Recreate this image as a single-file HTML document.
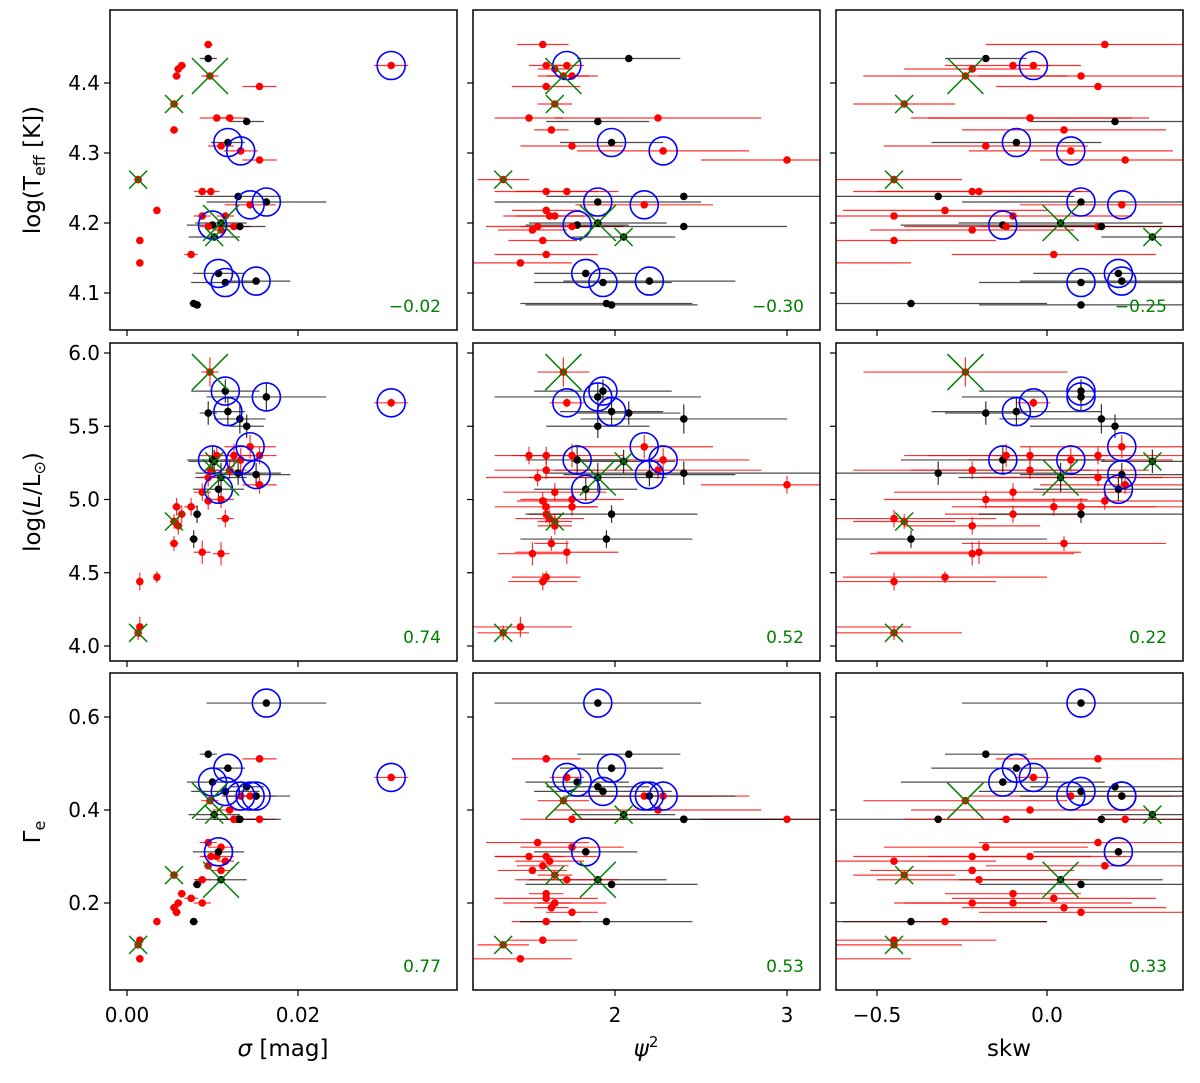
<!DOCTYPE html>
<html><head><meta charset="utf-8"><style>
html,body{margin:0;padding:0;background:#fff;}
svg{display:block;font-family:"DejaVu Sans","Liberation Sans",sans-serif;}
</style></head><body>
<svg id="chart" width="1200" height="1083" viewBox="0 0 1200 1083" xmlns="http://www.w3.org/2000/svg"></svg>
<script>
// ---- data (one entry per star) ----
const sigma = [.0309,.0095,.0095,.0097,.0060,.0064,.0058,.0055,.0055,.0105,.0118,.0133,.0140,.0155,.0120,.0155,.0110,.0163,.0144,.0098,.0130,.0100,.0107,.0115,.0151,.0102,.0110,.0013,.0035,.0015,.0015,.0078,.0082,.0125,.0115,.0095,.0088,.0132,.0088,.0110,.0075];
const sigmaErr = [.002,.0005,.001,.001,.0005,.0005,.0005,.0005,.0005,.002,.002,.002,.002,.002,.002,.002,.0015,.007,.003,.001,.005,.003,.003,.004,.004,.003,.003,.0004,.0003,.0004,.0004,.0005,.0005,.002,.001,.001,.001,.003,.001,.001,.0008];
const psi2 = [1.72,1.58,2.08,1.70,1.65,1.60,1.75,1.65,1.63,1.50,1.98,2.28,1.90,1.60,2.25,3.00,1.75,1.90,2.17,1.60,2.40,1.78,1.83,1.93,2.20,2.05,1.90,1.35,1.60,1.58,1.45,1.95,1.98,1.75,1.62,1.55,1.72,2.40,1.65,1.52,1.60];
const psi2Err = [.1,.15,.3,.15,.1,.1,.15,.1,.1,.2,.3,.5,.3,.2,.6,.5,.3,.6,.4,.3,.8,.3,.3,.4,.5,.3,.4,.15,.2,.2,.3,.5,.5,.3,.2,.3,.3,.6,.3,.2,.3];
const skw = [-.04,.17,-.18,-.24,-.22,-.10,.10,-.42,.05,-.05,-.09,.07,.20,.15,-.05,.23,-.18,.10,.22,-.22,-.32,-.13,.21,.10,.22,.31,.04,-.45,-.30,-.45,-.70,-.40,.10,-.12,-.45,.15,-.20,.16,-.10,-.22,.02];
const skwErr = [.05,.35,.12,.30,.20,.20,.30,.15,.30,.30,.25,.30,.25,.30,.35,.25,.30,.35,.30,.35,.40,.30,.25,.30,.30,.15,.30,.20,.30,.30,.30,.40,.30,.30,.30,.35,.30,.30,.35,.30,.30];
const logT = [4.425,4.455,4.435,4.41,4.42,4.425,4.41,4.37,4.333,4.35,4.315,4.303,4.345,4.395,4.35,4.29,4.31,4.23,4.226,4.245,4.238,4.197,4.128,4.115,4.117,4.18,4.2,4.262,4.218,4.175,4.143,4.085,4.083,4.195,4.21,4.195,4.245,4.195,4.21,4.19,4.155];
const logL = [5.66,4.99,5.59,5.87,4.82,4.90,4.95,4.85,4.70,5.30,5.60,5.27,5.50,5.30,5.20,5.10,5.00,5.70,5.36,5.20,5.18,5.27,5.07,5.74,5.17,5.26,5.15,4.09,4.47,4.44,4.13,4.73,4.90,5.30,4.87,5.15,4.64,5.55,5.05,4.63,4.95];
const logLErr = [.03,.06,.08,.1,.06,.06,.06,.05,.05,.06,.1,.08,.08,.06,.06,.06,.06,.1,.08,.06,.08,.1,.08,.08,.08,.08,.1,.05,.04,.06,.07,.06,.06,.08,.06,.06,.08,.1,.06,.08,.06];
const gammaE = [.47,.28,.52,.42,.20,.22,.18,.26,.19,.30,.49,.43,.45,.51,.40,.38,.32,.63,.43,.30,.38,.46,.31,.44,.43,.39,.25,.11,.16,.12,.08,.16,.24,.38,.29,.33,.25,.38,.20,.27,.21];
const kind = ['r','r','k','r','r','r','r','r','r','r','k','r','k','r','r','r','r','k','r','r','k','k','k','k','k','k','k','r','r','r','r','k','k','r','r','r','r','k','r','r','r'];
const circled = [1,0,0,0,0,0,0,0,0,0,1,1,0,0,0,0,0,1,1,0,0,1,1,1,1,0,0,0,0,0,0,0,0,0,0,0,0,0,0,0,0];
const crossed = [0,0,0,2,0,0,0,1,0,0,0,0,0,0,0,0,0,0,0,0,0,0,0,0,0,1,2,1,0,0,0,0,0,0,0,0,0,0,0,0,0];
const corrLabels = [['\u22120.02','\u22120.30','\u22120.25'],['0.74','0.52','0.22'],['0.77','0.53','0.33']];
const xTicks = [[0,0.02],[2,3],[-0.5,0.0]];
const xTickLabels = [['0.00','0.02'],['2','3'],['\u22120.5','0.0']];
const yTicks = [[4.1,4.2,4.3,4.4],[4.0,4.5,5.0,5.5,6.0],[0.2,0.4,0.6]];
const yTickLabels = [['4.1','4.2','4.3','4.4'],['4.0','4.5','5.0','5.5','6.0'],['0.2','0.4','0.6']];

// ---- layout / scales ----
const NS='http://www.w3.org/2000/svg';
const svg=document.getElementById('chart');
const colX=[[110,457],[473,820],[836,1183]];
const rowY=[[10,330],[343,661],[673,990]];
const xScale=[v=>127+v*8550, v=>615+(v-2)*172, v=>1047+v*340];
const yScale=[v=>83+(4.4-v)*700, v=>353+(6-v)*146.5, v=>717+(0.6-v)*465];
const xVals=[sigma,psi2,skw], xErrs=[sigmaErr,psi2Err,skwErr];
const yVals=[logT,logL,gammaE];
function mk(tag,attrs,parent){const e=document.createElementNS(NS,tag);for(const k in attrs)e.setAttribute(k,attrs[k]);(parent||svg).appendChild(e);return e;}
const defs=mk('defs',{});
for(let r=0;r<3;r++)for(let c=0;c<3;c++){
  const cp=mk('clipPath',{id:'cp'+r+c},defs);
  mk('rect',{x:colX[c][0],y:rowY[r][0],width:colX[c][1]-colX[c][0],height:rowY[r][1]-rowY[r][0]},cp);
}
for(let r=0;r<3;r++)for(let c=0;c<3;c++){
  const g=mk('g',{'clip-path':'url(#cp'+r+c+')'});
  
  
  const xs=xScale[c], ys=yScale[r];
  const N=sigma.length;
  for(let i=0;i<N;i++){
    const col=kind[i]==='r'?'#ff0000':'#000000';
    const x=xs(xVals[c][i]), y=ys(yVals[r][i]);
    const x0=xs(xVals[c][i]-xErrs[c][i]), x1=xs(xVals[c][i]+xErrs[c][i]);
    const eb=mk('line',{x1:x0,x2:x1,y1:y,y2:y,stroke:col,'stroke-width':1.2,'stroke-opacity':kind[i]==='r'?0.8:0.7},g);
    
    
    if(r===1){
      const ve=mk('line',{x1:x,x2:x,y1:ys(yVals[r][i]+logLErr[i]),y2:ys(yVals[r][i]-logLErr[i]),stroke:col,'stroke-width':1.2,'stroke-opacity':0.8},g);
      
      
    }
  }
  for(let i=0;i<N;i++){
    const col=kind[i]==='r'?'#ff0000':'#000000';
    const d=mk('circle',{cx:xs(xVals[c][i]),cy:ys(yVals[r][i]),r:3.8,fill:col},g);
    
    
  }
  for(let i=0;i<N;i++){
    if(!circled[i])continue;
    const o=mk('circle',{cx:xs(xVals[c][i]),cy:ys(yVals[r][i]),r:14,fill:'none',stroke:'#0000ff','stroke-width':1.6},g);
    
    
  }
  for(let i=0;i<N;i++){
    if(!crossed[i])continue;
    const h=crossed[i]===2?18:9, x=xs(xVals[c][i]), y=ys(yVals[r][i]);
    const p=mk('path',{d:`M${x-h},${y-h}L${x+h},${y+h}M${x-h},${y+h}L${x+h},${y-h}`,stroke:'#008000','stroke-width':1.5,fill:'none'},g);
    
    
  }
  // frame
  const fr=mk('rect',{x:colX[c][0],y:rowY[r][0],width:colX[c][1]-colX[c][0],height:rowY[r][1]-rowY[r][0],fill:'none',stroke:'#000','stroke-width':1.5});
  
  
  // x ticks
  xTicks[c].forEach((t,j)=>{
    const x=xs(t);
    mk('line',{x1:x,x2:x,y1:rowY[r][1],y2:rowY[r][1]+6,stroke:'#000','stroke-width':1.2});
    if(r===2){
      const tl=mk('text',{x:x,y:1022,'font-size':20,'text-anchor':'middle'});
      tl.textContent=xTickLabels[c][j];
      
      
    }
  });
  yTicks[r].forEach((t,j)=>{
    const y=ys(t);
    mk('line',{x1:colX[c][0]-6,x2:colX[c][0],y1:y,y2:y,stroke:'#000','stroke-width':1.2});
    if(c===0){
      const tl=mk('text',{x:100,y:y+7,'font-size':20,'text-anchor':'end'});
      tl.textContent=yTickLabels[r][j];
      
      
    }
  });
  const cl=mk('text',{x:colX[c][1]-16,y:rowY[r][1]-18,'font-size':17,'text-anchor':'end',fill:'#008000'});
  cl.textContent=corrLabels[r][c];
  
  
}
</script>
<svg style="position:absolute;left:0;top:0" width="1200" height="1083" xmlns="http://www.w3.org/2000/svg" font-family="DejaVu Sans, Liberation Sans, sans-serif">
  <text transform="translate(40,170) rotate(-90)" font-size="23" text-anchor="middle">log(T<tspan font-size="16" dy="5">eff</tspan><tspan dy="-5"> [K])</tspan></text>
  <text transform="translate(40,502) rotate(-90)" font-size="23" text-anchor="middle">log(<tspan font-style="italic">L</tspan>/L<tspan font-size="16" dy="5">⊙</tspan><tspan dy="-5">)</tspan></text>
  <text transform="translate(40,832) rotate(-90)" font-size="23" text-anchor="middle">Γ<tspan font-size="16" dy="5">e</tspan></text>
  <text x="283" y="1056" font-size="23" text-anchor="middle"><tspan font-style="italic">σ</tspan> [mag]</text>
  <text x="646" y="1056" font-size="23" text-anchor="middle" font-style="italic">ψ<tspan font-size="15" dy="-9" font-style="normal">2</tspan></text>
  <text x="1009" y="1056" font-size="23" text-anchor="middle">skw</text>
</svg>
</body></html>
